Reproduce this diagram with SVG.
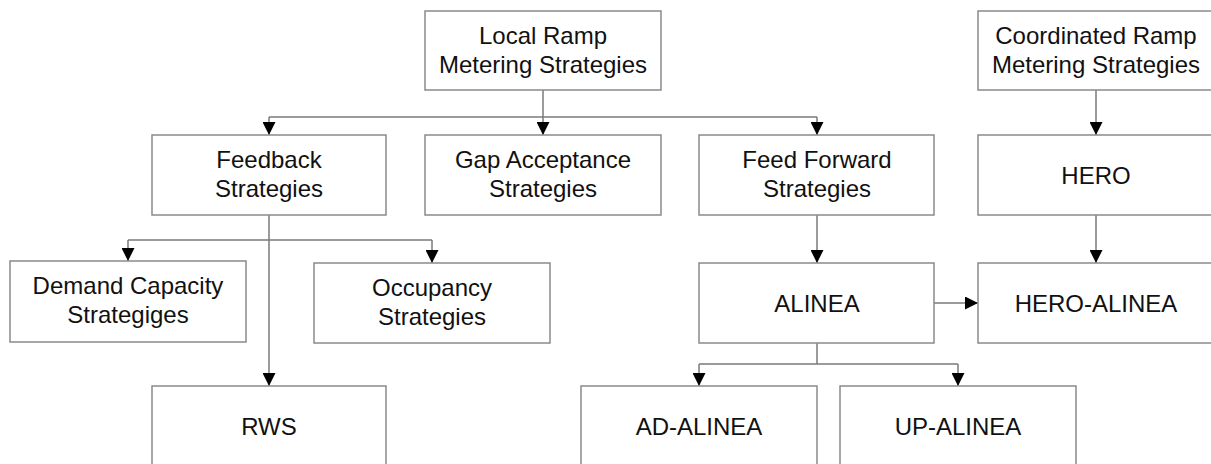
<svg xmlns="http://www.w3.org/2000/svg" width="1211" height="464" viewBox="0 0 1211 464">
<style>
.box{fill:#fff;stroke:#8a8a8a;stroke-width:1.5}
.t{font-family:"Liberation Sans",Arial,sans-serif;font-size:24px;fill:#111;text-anchor:middle}
.c{fill:none;stroke:#7a7a7a;stroke-width:1.5}
</style>
<defs>
<marker id="ah" markerUnits="userSpaceOnUse" markerWidth="13" markerHeight="13" refX="13" refY="6.5" orient="auto">
<path d="M0,0 L13,6.5 L0,13 z" fill="#000"/>
</marker>
</defs>
<rect width="1211" height="464" fill="#fff"/>
<g id="connectors">
<path class="c" d="M543,90 V117"/>
<path class="c" d="M269,117 H817"/>
<path class="c" d="M269,117 V135" marker-end="url(#ah)"/>
<path class="c" d="M543,117 V135" marker-end="url(#ah)"/>
<path class="c" d="M817,117 V135" marker-end="url(#ah)"/>
<path class="c" d="M1096,90 V135" marker-end="url(#ah)"/>
<path class="c" d="M269,215 V386" marker-end="url(#ah)"/>
<path class="c" d="M128,240 H432"/>
<path class="c" d="M128,240 V261" marker-end="url(#ah)"/>
<path class="c" d="M432,240 V263" marker-end="url(#ah)"/>
<path class="c" d="M817,215 V263" marker-end="url(#ah)"/>
<path class="c" d="M1096,215 V263" marker-end="url(#ah)"/>
<path class="c" d="M934,303 H978" marker-end="url(#ah)"/>
<path class="c" d="M817,343 V364"/>
<path class="c" d="M699,364 H958"/>
<path class="c" d="M699,364 V386" marker-end="url(#ah)"/>
<path class="c" d="M958,364 V386" marker-end="url(#ah)"/>
</g>
<g id="local"><rect class="box" x="425" y="11" width="236" height="79"/><text class="t" x="543" y="44">Local Ramp</text><text class="t" x="543" y="72.5">Metering Strategies</text></g>
<g id="coordinated"><rect class="box" x="978" y="11" width="236" height="79"/><text class="t" x="1096" y="44">Coordinated Ramp</text><text class="t" x="1096" y="72.5">Metering Strategies</text></g>
<g id="feedback"><rect class="box" x="152" y="135" width="234" height="80"/><text class="t" x="269" y="168">Feedback</text><text class="t" x="269" y="196.5">Strategies</text></g>
<g id="gap"><rect class="box" x="425" y="135" width="236" height="80"/><text class="t" x="543" y="168">Gap Acceptance</text><text class="t" x="543" y="196.5">Strategies</text></g>
<g id="feedforward"><rect class="box" x="699" y="135" width="235" height="80"/><text class="t" x="817" y="168">Feed Forward</text><text class="t" x="817" y="196.5">Strategies</text></g>
<g id="hero"><rect class="box" x="978" y="135" width="236" height="80"/><text class="t" x="1096" y="183.5">HERO</text></g>
<g id="demand"><rect class="box" x="10" y="261" width="236" height="81"/><text class="t" x="128" y="294">Demand Capacity</text><text class="t" x="128" y="322.5">Strategiges</text></g>
<g id="occupancy"><rect class="box" x="314" y="263" width="236" height="80"/><text class="t" x="432" y="296">Occupancy</text><text class="t" x="432" y="324.5">Strategies</text></g>
<g id="alinea"><rect class="box" x="699" y="263" width="235" height="80"/><text class="t" x="817" y="311.5">ALINEA</text></g>
<g id="heroalinea"><rect class="box" x="978" y="263" width="236" height="80"/><text class="t" x="1096" y="311.5">HERO-ALINEA</text></g>
<g id="rws"><rect class="box" x="152" y="386" width="234" height="80"/><text class="t" x="269" y="434.5">RWS</text></g>
<g id="adalinea"><rect class="box" x="581" y="386" width="236" height="80"/><text class="t" x="699" y="434.5">AD-ALINEA</text></g>
<g id="upalinea"><rect class="box" x="840" y="386" width="236" height="80"/><text class="t" x="958" y="434.5">UP-ALINEA</text></g>
</svg>
